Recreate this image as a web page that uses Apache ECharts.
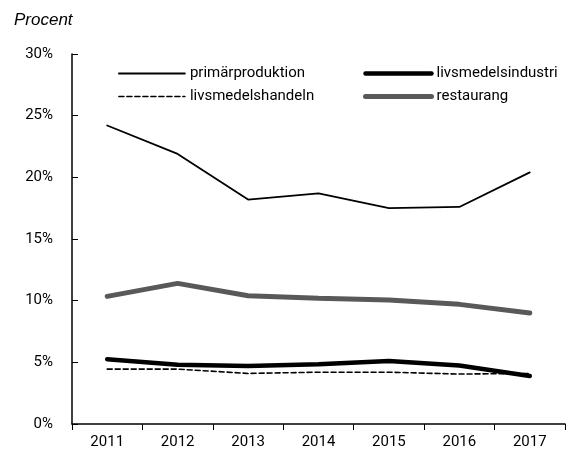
<!DOCTYPE html>
<html>
<head>
<meta charset="utf-8">
<script src="https://cdn.jsdelivr.net/npm/echarts@6/dist/echarts.min.js"></script>
<style>
  html, body { margin: 0; padding: 0; background: #fff; }
  #chart { width: 571px; height: 455px; }
</style>
</head>
<body>
<div id="chart"></div>
<script>
var years = ['2011', '2012', '2013', '2014', '2015', '2016', '2017']
var primarproduktion = [24.2, 21.9, 18.2, 18.7, 17.5, 17.6, 20.4]
var livsmedelsindustri = [5.25, 4.8, 4.7, 4.85, 5.1, 4.75, 3.9]
var livsmedelshandeln = [4.45, 4.45, 4.1, 4.2, 4.2, 4.05, 4.1]
var restaurang = [10.35, 11.4, 10.4, 10.2, 10.05, 9.7, 9.0]

var font = "Roboto, 'Liberation Sans Narrow', sans-serif"

var chart = echarts.init(document.getElementById('chart'))

// line styles, shared by series and legend
var styles = {
	'primärproduktion': { color: '#000', width: 1.8, type: 'solid' },
	'livsmedelsindustri': { color: '#000', width: 4.5, type: 'solid' },
	'livsmedelshandeln': { color: '#000', width: 1.6, type: [5, 3] },
	'restaurang': { color: '#595959', width: 5, type: 'solid' },
}

function line(name, data) {
	var s = styles[name]
	return {
		name: name,
		type: 'line',
		data: data,
		symbol: 'none',
		animation: false,
		lineStyle: { color: s.color, width: s.width, type: s.type, cap: 'round' },
		itemStyle: { color: s.color },
	}
}

function legendItem(name) {
	var s = styles[name]
	return {
		name: name,
		itemStyle: { opacity: 0 },
		lineStyle: { color: s.color, width: s.width, type: s.type, cap: 'round' },
	}
}

var legendBase = {
	orient: 'vertical',
	top: 61,
	itemWidth: 66,
	itemHeight: 12,
	itemGap: 8,
	selectedMode: false,
	itemStyle: { opacity: 0 },
	textStyle: { fontFamily: font, fontSize: 15, color: '#000' },
}

chart.setOption({
	backgroundColor: '#fff',
	animation: false,
	title: {
		text: 'Procent',
		left: 9,
		top: 7,
		textStyle: {
			fontFamily: "'Liberation Sans', Arial, sans-serif",
			fontStyle: 'italic',
			fontWeight: 'normal',
			fontSize: 17,
			color: '#000',
		},
	},
	legend: [
		Object.assign({}, legendBase, {
			left: 113,
			data: [legendItem('primärproduktion'), legendItem('livsmedelshandeln')],
		}),
		Object.assign({}, legendBase, {
			left: 358,
			data: [legendItem('livsmedelsindustri'), legendItem('restaurang')],
		}),
	],
	grid: { left: 72, right: 6, top: 54, bottom: 31 },
	xAxis: {
		type: 'category',
		data: years,
		boundaryGap: true,
		axisLine: { lineStyle: { color: '#000', width: 1.5 } },
		axisTick: { show: true, length: 6, lineStyle: { color: '#000' } },
		axisLabel: { fontFamily: font, fontSize: 15, color: '#000', margin: 11 },
	},
	yAxis: {
		type: 'value',
		min: 0,
		max: 30,
		interval: 5,
		axisLine: { show: true, lineStyle: { color: '#000', width: 1.5 } },
		axisTick: { show: true, inside: true, length: 6, lineStyle: { color: '#000' } },
		splitLine: { show: false },
		axisLabel: {
			fontFamily: font,
			fontSize: 15,
			color: '#000',
			margin: 19,
			formatter: '{value}%',
		},
	},
	series: [
		line('primärproduktion', primarproduktion),
		line('livsmedelsindustri', livsmedelsindustri),
		line('livsmedelshandeln', livsmedelshandeln),
		line('restaurang', restaurang),
	],
})
</script>
</body>
</html>
